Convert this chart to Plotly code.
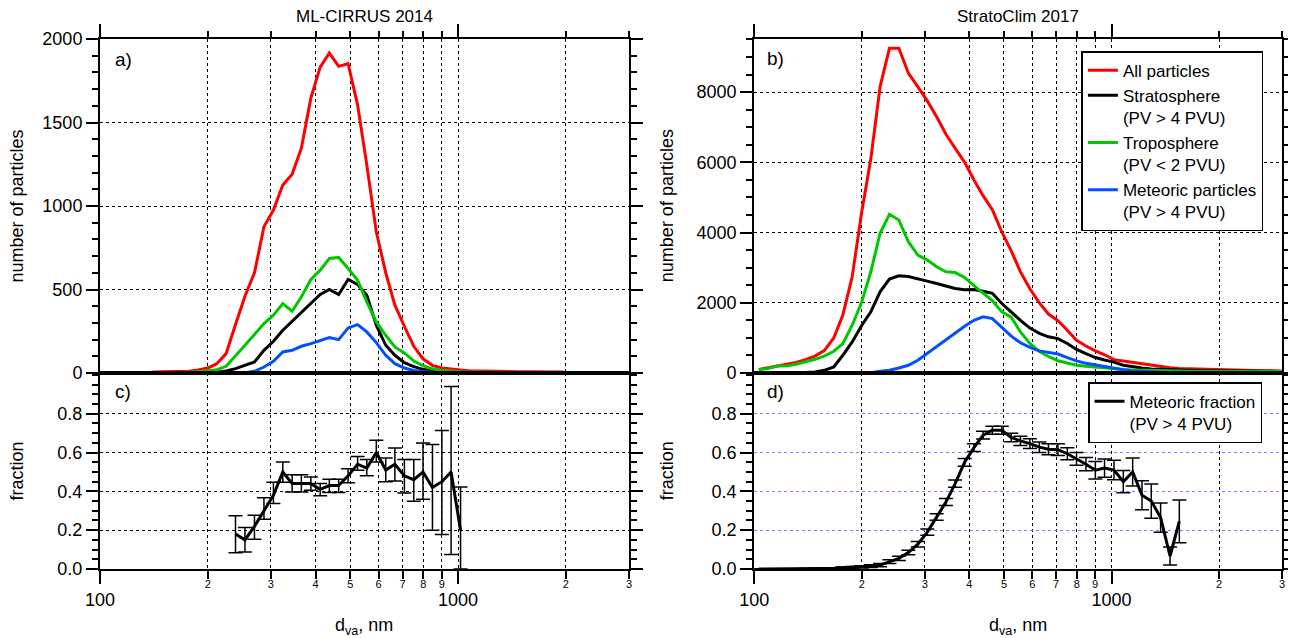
import math
import plotly.graph_objects as go

# ---- data ----
# bin centres, vacuum aerodynamic diameter (nm)
d_va = [103, 109, 116, 124, 131, 139, 148, 157, 167, 177,
        188, 200, 212, 225, 239, 254, 270, 287, 305, 324,
        344, 365, 388, 412, 437, 464, 493, 524, 556, 591,
        628, 666, 708, 752, 798, 848, 901, 956, 1016, 1079,
        1146, 1217, 1292, 1372, 1458, 1548, 1644, 1746, 1854, 1969,
        2092, 2222, 2360, 2506, 2662, 2827, 2998]

# ML-CIRRUS 2014 (panel a), 50 bins
mlc_all = [2, 2, 3, 3, 4, 5, 7, 8, 8, 10, 18,
           30, 56, 116, 290, 460, 600, 876, 976, 1126, 1190,
           1346, 1646, 1832, 1916, 1836, 1852, 1606, 1246, 846, 600,
           406, 280, 160, 85, 46, 30, 22, 18, 14, 12,
           10, 10, 9, 8, 8, 7, 7, 6, 6]
mlc_strat = [0, 0, 0, 0, 0, 0, 0, 1, 1, 1, 2,
             3, 5, 12, 26, 46, 66, 136, 190, 256, 310,
             360, 420, 470, 500, 470, 560, 530, 466, 286, 166,
             106, 62, 38, 22, 12, 8, 5, 4, 3, 3,
             2, 2, 2, 1, 1, 1, 1, 1, 1]
mlc_trop = [0, 0, 0, 1, 1, 2, 2, 3, 3, 4, 8,
            16, 20, 40, 106, 166, 230, 296, 346, 416, 370,
            456, 560, 616, 686, 692, 626, 556, 426, 306, 226,
            156, 120, 72, 44, 25, 15, 10, 8, 6, 5,
            4, 4, 3, 3, 2, 2, 2, 1, 1]
mlc_met = [0, 0, 0, 0, 0, 0, 0, 0, 0, 0, 0,
           0, 0, 0, 1, 2, 10, 36, 70, 126, 136,
           160, 176, 192, 212, 200, 270, 290, 246, 182, 106,
           56, 30, 15, 8, 4, 2, 1, 1, 0, 0,
           0, 0, 0, 0, 0, 0, 0, 0, 0]

# StratoClim 2017 (panel b), 57 bins
stc_all = [100, 150, 210, 250, 300, 380, 480, 640, 1000, 1650, 2740,
           4600, 6100, 8150, 9250, 9250, 8540, 8150, 7750, 7300, 6800,
           6400, 6000, 5500, 5050, 4650, 4020, 3480, 2880, 2400, 2000,
           1680, 1490, 1220, 930, 770, 630, 520, 380, 340, 300,
           260, 210, 175, 150, 130, 120, 110, 100, 95, 90,
           85, 80, 70, 65, 60, 60]
stc_strat = [5, 5, 5, 8, 10, 15, 30, 77, 173, 505, 886,
             1361, 1742, 2312, 2674, 2769, 2750, 2693, 2617, 2550, 2484,
             2408, 2370, 2380, 2330, 2270, 1980, 1730, 1500, 1280, 1130,
             1030, 980, 840, 670, 550, 440, 370, 310, 220, 170,
             140, 115, 100, 90, 80, 75, 70, 65, 60, 58,
             55, 52, 50, 48, 45, 45]
stc_trop = [90, 130, 200, 210, 250, 310, 390, 480, 620, 838, 1361,
            2027, 2883, 3977, 4519, 4357, 3739, 3358, 3216, 3026, 2883,
            2860, 2720, 2490, 2280, 2060, 1740, 1590, 1170, 840, 610,
            470, 350, 280, 220, 190, 165, 135, 115, 100, 85,
            75, 70, 65, 60, 55, 52, 50, 48, 46, 45,
            44, 43, 42, 41, 40, 40]
stc_met = [0, 0, 0, 0, 0, 0, 0, 0, 2, 4, 6,
           6, 10, 49, 77, 144, 220, 363, 560, 760, 950,
           1140, 1330, 1500, 1600, 1550, 1300, 1050, 860, 730, 630,
           580, 540, 440, 345, 275, 225, 190, 140, 90, 60,
           40, 30, 20, 15, 12, 10, 8, 6, 5, 5,
           4, 4, 3, 3, 3, 3]

# meteoric fraction, ML-CIRRUS (panel c): bins 14..38
mlc_frac = [0.18, 0.15, 0.22, 0.30, 0.38, 0.50, 0.44, 0.44, 0.44, 0.41,
            0.43, 0.43, 0.48, 0.54, 0.52, 0.60, 0.51, 0.54, 0.48, 0.46,
            0.50, 0.42, 0.45, 0.50, 0.20]
mlc_frac_hi = [0.274, 0.214, 0.277, 0.367, 0.447, 0.552, 0.486, 0.486, 0.474, 0.44,
               0.462, 0.462, 0.517, 0.58, 0.564, 0.663, 0.572, 0.624, 0.564, 0.564,
               0.649, 0.642, 0.714, 0.94, 0.423]
mlc_frac_lo = [0.084, 0.087, 0.153, 0.257, 0.338, 0.447, 0.397, 0.397, 0.406, 0.377,
               0.394, 0.394, 0.445, 0.509, 0.481, 0.552, 0.449, 0.454, 0.392, 0.349,
               0.36, 0.2, 0.178, 0.075, 0.0]

# meteoric fraction, StratoClim (panel d): bins 0..45
stc_frac = [0.0, 0.0, 0.0, 0.0, 0.0, 0.001, 0.002, 0.003, 0.004, 0.006, 0.008,
            0.011, 0.015, 0.02, 0.038, 0.055, 0.085, 0.128, 0.19, 0.268, 0.345,
            0.44, 0.55, 0.625, 0.69, 0.715, 0.715, 0.678, 0.66, 0.646, 0.628,
            0.617, 0.615, 0.594, 0.568, 0.54, 0.509, 0.52, 0.51, 0.45, 0.50,
            0.38, 0.35, 0.265, 0.067, 0.245]
stc_frac_err = [0.001, 0.001, 0.001, 0.001, 0.001, 0.002, 0.002, 0.003, 0.003, 0.004, 0.005,
                0.006, 0.007, 0.008, 0.01, 0.011, 0.012, 0.014, 0.016, 0.017, 0.018,
                0.019, 0.02, 0.02, 0.02, 0.02, 0.021, 0.022, 0.024, 0.025, 0.027,
                0.028, 0.03, 0.031, 0.033, 0.034, 0.045, 0.047, 0.05, 0.057, 0.072,
                0.075, 0.088, 0.075, 0.047, 0.11]

decades = [100, 1000]
digits = [200, 300, 400, 500, 600, 700, 800, 900, 2000, 3000]
digit_text = ["2", "3", "4", "5", "6", "7", "8", "9", "2", "3"]

FONT = "Liberation Sans, Arial, sans-serif"
RED, BLACK, GREEN, BLUE = "#ff0000", "#000000", "#00c800", "#0050ff"
XR = [2, math.log10(3000)]

fig = go.Figure()

x_mlc = d_va[:50]
series = [("All particles", mlc_all, stc_all, RED),
          ("Stratosphere<br>(PV &gt; 4 PVU)", mlc_strat, stc_strat, BLACK),
          ("Troposphere<br>(PV &lt; 2 PVU)", mlc_trop, stc_trop, GREEN),
          ("Meteoric particles<br>(PV &gt; 4 PVU)", mlc_met, stc_met, BLUE)]
for name, ya, yb, col in series:
    fig.add_trace(go.Scatter(x=x_mlc, y=ya, mode="lines", line=dict(color=col, width=3),
                             xaxis="x", yaxis="y", showlegend=False))
    fig.add_trace(go.Scatter(x=d_va, y=yb, mode="lines", line=dict(color=col, width=3),
                             name=name, xaxis="x2", yaxis="y2", legend="legend"))

fig.add_trace(go.Scatter(
    x=d_va[14:39], y=mlc_frac, mode="lines", line=dict(color=BLACK, width=3),
    error_y=dict(type="data", symmetric=False,
                 array=[h - v for h, v in zip(mlc_frac_hi, mlc_frac)],
                 arrayminus=[v - l for v, l in zip(mlc_frac, mlc_frac_lo)],
                 color=BLACK, thickness=1.5, width=7),
    xaxis="x3", yaxis="y3", showlegend=False))
fig.add_trace(go.Scatter(
    x=d_va[:46], y=stc_frac, mode="lines", line=dict(color=BLACK, width=3),
    error_y=dict(type="data", array=stc_frac_err, color=BLACK, thickness=1.5, width=7),
    name="Meteoric fraction<br>(PV &gt; 4 PVU)", xaxis="x4", yaxis="y4", legend="legend2"))

# empty traces carrying the small digit labels of the log axes
for xa, ya in (("x5", "y3"), ("x6", "y4")):
    fig.add_trace(go.Scatter(x=[None], y=[None], xaxis=xa, yaxis=ya, showlegend=False))

grid = dict(showgrid=True, gridcolor=BLACK, griddash="dot", gridwidth=1)
line = dict(showline=True, linecolor=BLACK, linewidth=2, zeroline=False, automargin=False)


def xaxis(domain, anchor, top):
    ax = dict(domain=domain, anchor=anchor, type="log", range=XR, tickvals=decades,
              ticks="outside", tickwidth=2, tickcolor=BLACK, mirror=True,
              minor=dict(tickvals=digits, ticks="outside", tickwidth=1.5, tickcolor=BLACK,
                         ticklen=6 if top else 8, **grid),
              **grid, **line)
    if top:
        ax.update(side="top", ticklen=13, showticklabels=False)
    else:
        ax.update(side="bottom", ticklen=13, ticktext=["100", "1000"],
                  tickfont=dict(size=18), ticklabelstandoff=0)
    return ax


def digit_axis(over, anchor, domain):
    return dict(overlaying=over, anchor=anchor, domain=domain, type="log", range=XR,
                side="bottom", tickmode="array", tickvals=digits, ticktext=digit_text,
                tickfont=dict(size=11), ticks="", showgrid=False, showline=False,
                zeroline=False, automargin=False, ticklabelstandoff=7)


def yaxis(domain, anchor, rng, dtick, minor, gridcolor=BLACK, vals=None, fmt=None):
    ax = dict(domain=domain, anchor=anchor, range=rng, ticks="outside", ticklen=12,
              tickwidth=2, tickcolor=BLACK, mirror="ticks", tickfont=dict(size=18),
              minor=dict(dtick=minor, tick0=0, ticks="outside", ticklen=6,
                         tickwidth=1.5, tickcolor=BLACK),
              **line)
    ax.update(grid)
    ax["gridcolor"] = gridcolor
    if vals is not None:
        ax.update(tickmode="array", tickvals=vals)
    else:
        ax.update(tick0=0, dtick=dtick)
    if fmt:
        ax["tickformat"] = fmt
    return ax


XL, XRD = [0, 0.4475], [0.5535, 1]
YT, YB = [0.3698, 1], [0, 0.3698]
frac_ticks = [0, 0.2, 0.4, 0.6, 0.8]

# the page body adds 8 px around the figure, so the figure is 8 px smaller
fig.update_layout(
    width=1288, height=630,
    margin=dict(l=92, r=14, t=31, b=69, autoexpand=False),
    paper_bgcolor="white", plot_bgcolor="white",
    font=dict(family=FONT, size=18, color=BLACK),
    xaxis=xaxis(XL, "y", True),
    xaxis2=xaxis(XRD, "y2", True),
    xaxis3=xaxis(XL, "y3", False),
    xaxis4=xaxis(XRD, "y4", False),
    xaxis5=digit_axis("x3", "y3", XL),
    xaxis6=digit_axis("x4", "y4", XRD),
    yaxis=yaxis(YT, "x", [0, 2000], 500, 100),
    yaxis2=yaxis(YT, "x2", [0, 9513], 2000, 500),
    yaxis3=yaxis(YB, "x3", [0, 1.01], None, 0.05, vals=frac_ticks, fmt=".1f"),
    yaxis4=yaxis(YB, "x4", [0, 1.01], None, 0.05, gridcolor="#7f7fff",
                 vals=frac_ticks, fmt=".1f"),
    legend=dict(x=0.8303, y=0.977, xanchor="left", yanchor="top", bgcolor="white",
                bordercolor=BLACK, borderwidth=1.5, font=dict(size=17), valign="top"),
    legend2=dict(x=0.8359, y=0.3523, xanchor="left", yanchor="top", bgcolor="white",
                 bordercolor=BLACK, borderwidth=1.5, font=dict(size=17), valign="top"),
)

ann = []
for xa, ya, title in (("x", "y", "ML-CIRRUS 2014"), ("x2", "y2", "StratoClim 2017")):
    ann.append(dict(text=title, xref=f"{xa} domain", yref="paper", x=0.5, y=1.042,
                    xanchor="center", yanchor="middle", showarrow=False, font=dict(size=17)))
for xa, ya, lab, xo, yo in (("x", "y", "a)", 0.025, 0.939), ("x2", "y2", "b)", 0.02, 0.942),
                            ("x3", "y3", "c)", 0.025, 0.904), ("x4", "y4", "d)", 0.02, 0.904)):
    ann.append(dict(text=lab, xref=f"{xa} domain", yref=f"{ya} domain", x=xo, y=yo,
                    xanchor="left", yanchor="middle", showarrow=False, font=dict(size=19)))
for xa, ya, lab, xo in (("x", "y", "number of particles", -0.156), ("x2", "y2", "number of particles", -0.165),
                        ("x3", "y3", "fraction", -0.156), ("x4", "y4", "fraction", -0.165)):
    ann.append(dict(text=lab, xref=f"{xa} domain", yref=f"{ya} domain", x=xo, y=0.5,
                    textangle=-90, xanchor="center", yanchor="middle", showarrow=False,
                    font=dict(size=18)))
for xa in ("x3", "x4"):
    ann.append(dict(text="d<sub>va</sub>, nm", xref=f"{xa} domain", yref="paper", x=0.5,
                    y=-0.1094, xanchor="center", yanchor="middle", showarrow=False,
                    font=dict(size=18)))
fig.update_layout(annotations=ann)

fig.write_html("out.html")
